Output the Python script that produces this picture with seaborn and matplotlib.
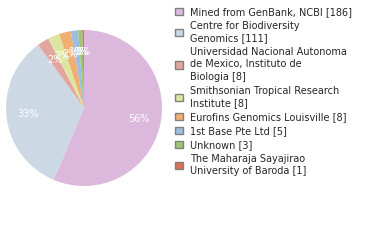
import matplotlib
matplotlib.use("Agg")
import matplotlib.pyplot as plt
import seaborn as sns
from matplotlib.patches import Patch

sns.set_theme(style="white")
plt.rcParams['font.family'] = ['DejaVu Sans']

categories = [
    "Mined from GenBank, NCBI [186]",
    "Centre for Biodiversity\nGenomics [111]",
    "Universidad Nacional Autonoma\nde Mexico, Instituto de\nBiologia [8]",
    "Smithsonian Tropical Research\nInstitute [8]",
    "Eurofins Genomics Louisville [8]",
    "1st Base Pte Ltd [5]",
    "Unknown [3]",
    "The Maharaja Sayajirao\nUniversity of Baroda [1]",
]
values = [186, 111, 8, 8, 8, 5, 3, 1]
colors = ["#dcb9dc", "#ccd9e5", "#e3a69e", "#dde6a0", "#f0ae6f", "#9ebde0", "#9ec673", "#de7058"]

fig = plt.figure(figsize=(3.8, 2.4), dpi=100)
ax = fig.add_axes([6/380, (240-186)/240, 156/380, 156/240])
wedges, texts, autotexts = ax.pie(
    values, colors=colors, startangle=90, counterclock=False,
    autopct=lambda p: "%d%%" % int(p), pctdistance=0.72,
    textprops=dict(color="white", fontsize=7),
    wedgeprops=dict(linewidth=0),
)
ax.set_xlim(-1, 1)
ax.set_ylim(-1, 1)
ax.set_aspect("equal")

handles = [Patch(facecolor=c, edgecolor="#808080", linewidth=1) for c in colors]
leg = fig.legend(handles, categories, loc="upper left", bbox_to_anchor=(168/380, 1.0),
                 frameon=False, fontsize=7, handlelength=0.8, handleheight=0.8,
                 handletextpad=0.8, labelspacing=0.4, borderaxespad=0.3)
for t in leg.get_texts():
    t.set_linespacing(1.3)

fig.savefig("out.png", dpi=100)
